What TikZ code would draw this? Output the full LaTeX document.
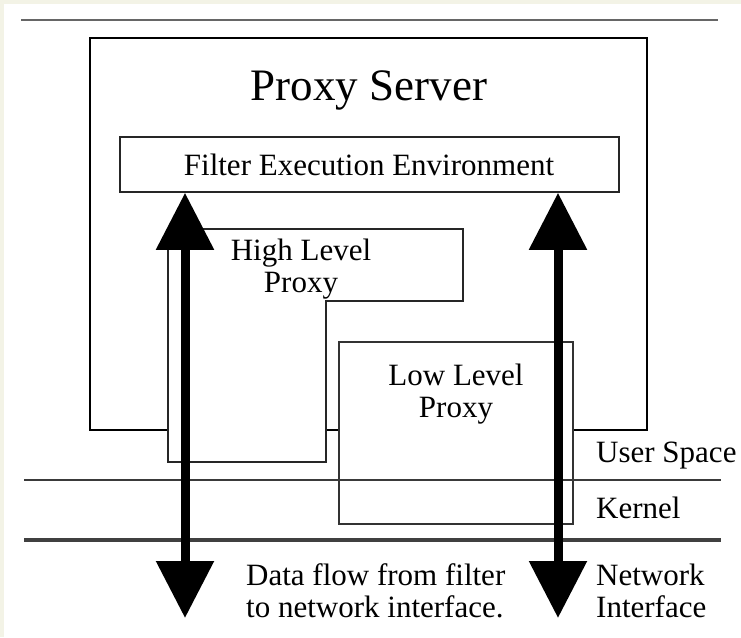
\documentclass[tikz,border=0pt]{standalone}
\usepackage{fontspec}
\setmainfont{Liberation Serif}
\usetikzlibrary{arrows.meta}
\definecolor{cream}{HTML}{F3F3E6}
\definecolor{linegray}{HTML}{3A3A3A}
\tikzset{
  boxline/.style={draw=black, line width=1.8pt, fill=white},
  txt/.style={font=\fontsize{31}{32}\selectfont, inner sep=0pt, align=center},
  lbl/.style={font=\fontsize{31}{32}\selectfont, inner sep=0pt, align=left, anchor=base west},
  dflow/.style={line width=9pt, {Triangle[width=56pt,length=57pt]}-{Triangle[width=56pt,length=57pt]}},
  sepline/.style={draw=linegray, line width=2pt}
}
\begin{document}
\begin{tikzpicture}[x=1pt,y=-1pt]
  \useasboundingbox (0,0) rectangle (741,637);
  \fill[cream] (0,0) rectangle (741,637);
  \fill[white] (4,4) rectangle (741,637);

  % top rule
  \coordinate (t1) at (21,20);
  \coordinate (t2) at (718,20);
  \draw[draw=black!60, line width=2.5pt] (t1) -- (t2);

  % Proxy Server outer box
  \node[draw=black, line width=2pt, minimum width=557pt, minimum height=392pt, inner sep=0pt] (ps) at (368.5,234) {};
  \node[txt, font=\fontsize{45}{46}\selectfont, anchor=base] (title) at (369,100) {Proxy Server};

  % Filter Execution Environment
  \node[draw=black!85, line width=1.6pt, fill=white, minimum width=499pt, minimum height=55pt, inner sep=0pt] (fee) at (369.5,164.5) {};
  \node[txt, anchor=base] (feetxt) at (369,175) {Filter Execution Environment};

  % High Level Proxy (stepped box)
  \draw[boxline, draw=black!85, line width=1.6pt] (168,229) -- (463,229) -- (463,301) -- (326,301) -- (326,462) -- (168,462) -- cycle;
  \node[txt, anchor=base] (hlp) at (301,292) {High Level\\Proxy};

  % Low Level Proxy
  \node[draw=black!80, line width=1.6pt, fill=white, minimum width=234pt, minimum height=182pt, inner sep=0pt] (llp) at (456,433) {};
  \node[txt, anchor=base] (llptxt) at (456,417) {Low Level\\Proxy};

  % separator lines
  \coordinate (u1) at (24,480);
  \coordinate (u2) at (721,480);
  \draw[sepline] (u1) -- (u2);
  \coordinate (k1) at (24,540);
  \coordinate (k2) at (721,540);
  \draw[draw=black!75, line width=4pt] (k1) -- (k2);

  % data flow arrows
  \coordinate (a1b) at (185,618);
  \coordinate (a2b) at (558,618);
  \draw[dflow] (fee.south -| a1b) -- (a1b);
  \draw[dflow] (fee.south -| a2b) -- (a2b);

  % labels
  \node[lbl] (us) at (596,462) {User Space};
  \node[lbl] (kn) at (596,518) {Kernel};
  \node[lbl] (ni) at (596,617) {Network\\Interface};
  \node[lbl] (df) at (246,617) {Data flow from filter\\to network interface.};
\end{tikzpicture}
\end{document}
